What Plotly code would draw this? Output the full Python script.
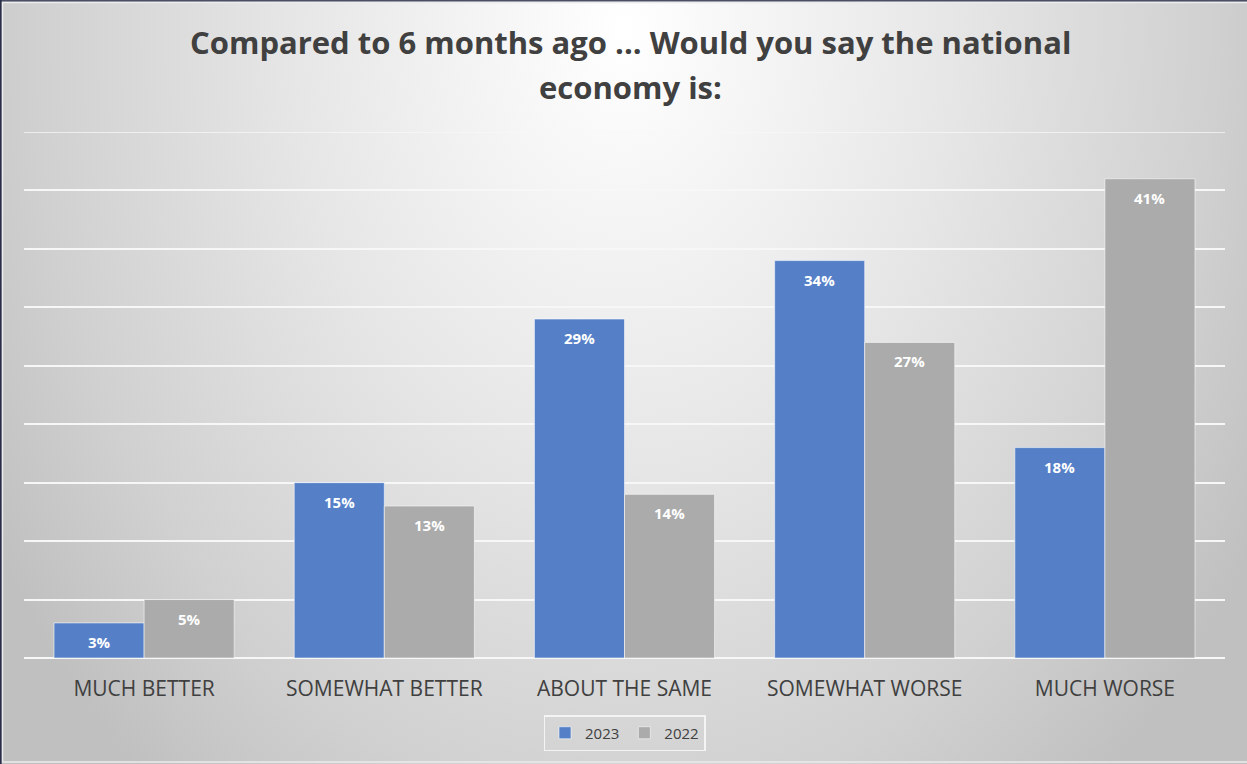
import base64
import plotly.graph_objects as go

# Survey responses (percent of respondents)
categories = ["MUCH BETTER", "SOMEWHAT BETTER", "ABOUT THE SAME", "SOMEWHAT WORSE", "MUCH WORSE"]
values_2023 = [3, 15, 29, 34, 18]
values_2022 = [5, 13, 14, 27, 41]
series_names = ["2023", "2022"]
y_max = 45

W, H = 1247, 764
L, R, T, B = 24, 22, 132, 106
PW, PH = W - L - R, H - T - B

BLUE = "#5580C8"
GRAY = "#ABABAB"
TEXT = "#404040"
GRID = "#f7f7f7"
FONT = "Open Sans"
BARGAP = 0.25

# Soft radial background, bright near the top centre and greyer toward the edges
svg = f"""<svg xmlns='http://www.w3.org/2000/svg' width='{W}' height='{H}' viewBox='0 0 {W} {H}'>
<defs><radialGradient id='g' gradientUnits='userSpaceOnUse' cx='0' cy='0' r='1'
 gradientTransform='translate(623 30) scale(740 980)'>
<stop offset='0' stop-color='#ffffff'/>
<stop offset='0.45' stop-color='#e6e6e6'/>
<stop offset='0.8' stop-color='#d0d0d0'/>
<stop offset='1' stop-color='#c0c0c0'/>
</radialGradient></defs>
<rect width='{W}' height='{H}' fill='url(#g)'/>
</svg>"""
bg_uri = "data:image/svg+xml;base64," + base64.b64encode(svg.encode()).decode()

fig = go.Figure()
series = [(series_names[0], values_2023, BLUE), (series_names[1], values_2022, GRAY)]
for name, vals, color in series:
    fig.add_trace(go.Bar(
        name=name,
        x=categories,
        y=vals,
        marker=dict(color=color, line=dict(color="rgba(255,255,255,0.55)", width=1)),
        hoverinfo="skip",
    ))

# Value labels just inside the top of each bar
bar_w = (1 - BARGAP) / len(series)
for k, (name, vals, color) in enumerate(series):
    offset = -(1 - BARGAP) / 2 + bar_w * (k + 0.5)
    for i, v in enumerate(vals):
        fig.add_annotation(
            x=i + offset, y=v, xref="x", yref="y",
            text=f"{v}%", showarrow=False,
            xanchor="center", yanchor="middle", yshift=-19,
            font=dict(family=FONT, size=15, color="white", weight="bold"),
        )

def px_x(p):
    return (p - L) / PW

def px_y(p):
    return (H - B - p) / PH

fig.add_layout_image(dict(
    source=bg_uri, xref="paper", yref="paper",
    x=px_x(0), y=px_y(0), sizex=W / PW, sizey=H / PH,
    xanchor="left", yanchor="top", sizing="stretch", layer="below",
))

# Topmost gridline sits on the edge of the plot area
fig.add_shape(type="line", xref="paper", yref="y", x0=0, x1=1, y0=y_max, y1=y_max,
              line=dict(color=GRID, width=1.5), layer="below")

title_lines = ["Compared to 6 months ago ... Would you say the national", "economy is:"]
for line, yc in zip(title_lines, [42, 87]):
    fig.add_annotation(
        text=line, xref="paper", yref="paper", x=px_x(630), y=px_y(yc),
        xanchor="center", yanchor="middle", showarrow=False,
        font=dict(family=FONT, size=31, color=TEXT, weight="bold"),
    )

# Frame around the chart
fig.add_shape(type="rect", xref="paper", yref="paper",
              x0=px_x(2.5), x1=px_x(W + 2), y0=px_y(2.5), y1=px_y(762),
              line=dict(color="#ececec", width=1.5), layer="above")
fig.add_shape(type="line", xref="paper", yref="paper",
              x0=px_x(0), x1=px_x(W), y0=px_y(0.8), y1=px_y(0.8),
              line=dict(color="#4a4f66", width=1.6))
fig.add_shape(type="line", xref="paper", yref="paper",
              x0=px_x(0.8), x1=px_x(0.8), y0=px_y(0), y1=px_y(H),
              line=dict(color="#2a2d48", width=1.6))

fig.update_layout(
    width=W, height=H,
    margin=dict(l=L, r=R, t=T, b=B),
    paper_bgcolor="#d8d8d8",
    plot_bgcolor="rgba(0,0,0,0)",
    barmode="group",
    bargap=BARGAP,
    bargroupgap=0,
    showlegend=True,
    legend=dict(
        orientation="h", x=0.5, xanchor="center", y=px_y(733), yanchor="middle",
        font=dict(family=FONT, size=15, color=TEXT),
        bgcolor="rgba(0,0,0,0)", bordercolor="#f4f4f4", borderwidth=1.5,
        itemwidth=30, traceorder="normal",
    ),
    xaxis=dict(
        showgrid=False, showline=False, ticks="",
        tickfont=dict(family=FONT, size=21, color=TEXT),
        ticklabelstandoff=16,
    ),
    yaxis=dict(
        range=[0, y_max], tickvals=[5, 10, 15, 20, 25, 30, 35, 40],
        showticklabels=False,
        showgrid=True, gridcolor=GRID, gridwidth=1.5,
        zeroline=True, zerolinecolor=GRID, zerolinewidth=2,
        showline=False, ticks="",
    ),
)

fig.write_html("out.html")
